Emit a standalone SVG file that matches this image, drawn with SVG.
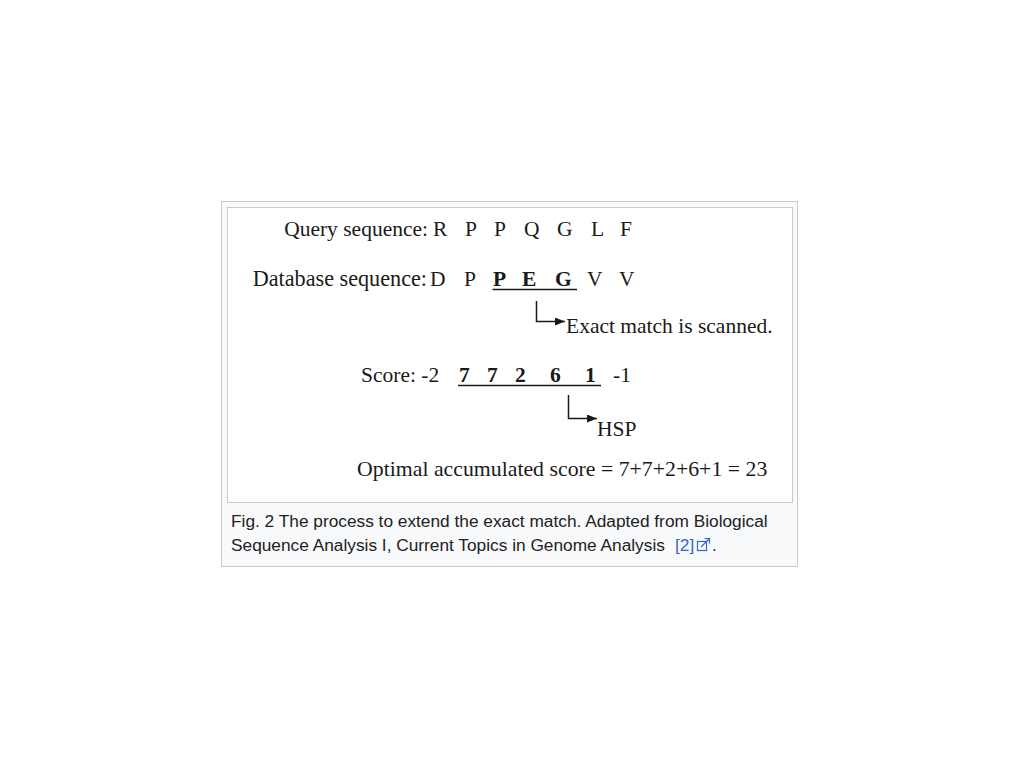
<svg xmlns="http://www.w3.org/2000/svg" width="1024" height="768" viewBox="0 0 1024 768">
<style>
.s{font-family:"Liberation Serif","Times New Roman",serif;font-size:21.5px;fill:#1a1a1a}
.b{font-weight:bold}
.c{font-family:"Liberation Sans",Arial,sans-serif;font-size:17.3px;fill:#222}
.lnk{fill:#3366cc}
.ln{stroke:#1a1a1a;stroke-width:1.5;fill:none}
</style>
<defs>
<marker id="ah" viewBox="0 0 10 8" refX="10" refY="4" markerWidth="10" markerHeight="8" markerUnits="userSpaceOnUse" orient="auto">
<path d="M0,0 L10,4 L0,8 Z" fill="#1a1a1a"/>
</marker>
</defs>
<rect width="1024" height="768" fill="#fff"/>
<g id="frame">
<rect x="221.5" y="201.5" width="576" height="365" fill="#f8f9fa" stroke="#c8ccd1"/>
<rect x="227.5" y="207.5" width="565" height="295" fill="#fff" stroke="#c8ccd1"/>
</g>
<g id="query">
<text class="s" x="428" y="236" text-anchor="end">Query sequence:</text>
<text class="s" x="433" y="236">R</text>
<text class="s" x="465" y="236">P</text>
<text class="s" x="494" y="236">P</text>
<text class="s" x="524" y="236">Q</text>
<text class="s" x="557" y="236">G</text>
<text class="s" x="591" y="236">L</text>
<text class="s" x="620" y="236">F</text>
</g>
<g id="database">
<text class="s" x="427" y="286" text-anchor="end" style="font-size:22.2px">Database sequence:</text>
<text class="s" x="430" y="286">D</text>
<text class="s" x="464" y="286">P</text>
<text class="s b" x="493" y="286">P</text>
<text class="s b" x="522" y="286">E</text>
<text class="s b" x="555" y="286">G</text>
<text class="s" x="587" y="286">V</text>
<text class="s" x="619" y="286">V</text>
<line class="ln" x1="492.5" y1="289.5" x2="577" y2="289.5"/>
</g>
<g id="exact">
<text class="s" x="566" y="333">Exact match is scanned.</text>
</g>
<g id="score">
<text class="s" x="361" y="382">Score: -2</text>
<text class="s b" x="459" y="382">7</text>
<text class="s b" x="487" y="382">7</text>
<text class="s b" x="515" y="382">2</text>
<text class="s b" x="550" y="382">6</text>
<text class="s b" x="585" y="382">1</text>
<text class="s" x="613" y="382">-1</text>
<line class="ln" x1="458" y1="385.5" x2="601" y2="385.5"/>
</g>
<g id="hsp">
<text class="s" x="597" y="436">HSP</text>
</g>
<g id="optimal">
<text class="s" x="357" y="476" style="font-size:21.8px">Optimal accumulated score = 7+7+2+6+1 = 23</text>
</g>
<g id="connectors">
<path class="ln" d="M536.5,301 V321.5 H565" marker-end="url(#ah)"/>
<path class="ln" d="M568.5,395 V418.5 H597" marker-end="url(#ah)"/>
</g>
<g id="caption">
<text class="c" x="231" y="527">Fig. 2 The process to extend the exact match. Adapted from Biological</text>
<text class="c" x="231" y="551">Sequence Analysis I, Current Topics in Genome Analysis</text>
<text class="c lnk" x="675" y="551">[2]</text>
<g id="extlink" fill="none" stroke="#3366cc" stroke-width="1.2">
<rect x="697.5" y="541.5" width="9" height="9" fill="#fff"/>
<path d="M701,547 L709,539 M704.5,538.5 H709.5 V543.5"/>
</g>
<text class="c" x="712" y="551">.</text>
</g>
</svg>
